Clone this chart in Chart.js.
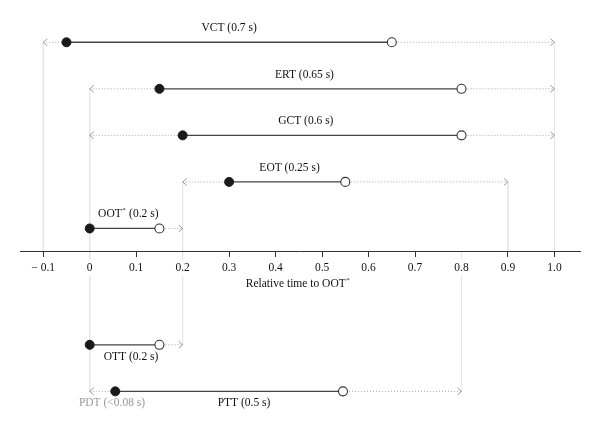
<!DOCTYPE html>
<html>
<head>
<meta charset="utf-8">
<script src="https://cdn.jsdelivr.net/npm/chart.js@4.4.1/dist/chart.umd.min.js"></script>
<style>
  html, body { margin: 0; padding: 0; background: #fff; }
  #wrap { width: 600px; height: 431px; position: relative; }
</style>
</head>
<body>
<div id="wrap"><canvas id="timing"></canvas></div>
<script>
// rows, top to bottom (rows above the axis, then the two below it)
var rowNames = ['VCT', 'ERT', 'GCT', 'EOT', 'OOT', 'OTT', 'PTT'];
var rowLevel = [7, 6, 5, 4, 3, 0.5, -0.5];
var onsetTime = [-0.05, 0.15, 0.2, 0.3, 0, 0, 0.055];
var offsetTime = [0.65, 0.8, 0.8, 0.55, 0.15, 0.15, 0.545];
var windowStart = [-0.1, 0, 0, 0.2, null, null, 0];
var windowEnd = [1.0, 1.0, 1.0, 0.9, 0.2, 0.2, 0.8];
var durationText = ['VCT (0.7 s)', 'ERT (0.65 s)', 'GCT (0.6 s)', 'EOT (0.25 s)', 'OOT* (0.2 s)', 'OTT (0.2 s)', 'PTT (0.5 s)'];
var labelAt = [0.30, 0.462, 0.465, 0.43, 0.083, 0.089, 0.332];
var labelBelow = [false, false, false, false, false, true, true];

// extra grey note under PTT
var noteText = 'PDT (<0.08 s)';
var noteAt = 0.048;

// light vertical guide lines
var guideX = [-0.1, 0, 0.2, 0.8, 0.9, 1.0];
var guideTop = [7, 6, 4, 2.5, 4, 7];
var guideBottom = [2.5, -0.5, 0.5, -0.5, 2.5, 2.5];

// axis
var tickValues = [-0.1, 0, 0.1, 0.2, 0.3, 0.4, 0.5, 0.6, 0.7, 0.8, 0.9, 1.0];
var tickLabels = ['\u2212 0.1', '0', '0.1', '0.2', '0.3', '0.4', '0.5', '0.6', '0.7', '0.8', '0.9', '1.0'];
var axisLevel = 2.5;
var axisTitle = 'Relative time to OOT*';

var FONT = '"Liberation Serif", "DejaVu Serif", serif';
var SIZE = 11.5;

var datasets = [];

// dots on top
datasets.push({
    type: 'scatter',
    order: 0,
    data: rowNames.map(function (n, i) { return { x: onsetTime[i], y: rowLevel[i] }; }),
    pointRadius: 4.5,
    pointBackgroundColor: '#1a1a1a',
    pointBorderColor: '#1a1a1a',
    pointBorderWidth: 1
});
datasets.push({
    type: 'scatter',
    order: 0,
    data: rowNames.map(function (n, i) { return { x: offsetTime[i], y: rowLevel[i] }; }),
    pointRadius: 4.5,
    pointBackgroundColor: '#fff',
    pointBorderColor: '#333',
    pointBorderWidth: 1.1
});

// solid onset-offset segments
rowNames.forEach(function (n, i) {
    datasets.push({
        type: 'line',
        order: 1,
        data: [{ x: onsetTime[i], y: rowLevel[i] }, { x: offsetTime[i], y: rowLevel[i] }],
        borderColor: '#444',
        borderWidth: 1.3,
        pointRadius: 0
    });
});

// dotted windows either side
rowNames.forEach(function (n, i) {
    if (windowStart[i] !== null) {
        datasets.push({
            type: 'line',
            order: 2,
            data: [{ x: windowStart[i], y: rowLevel[i] }, { x: onsetTime[i], y: rowLevel[i] }],
            borderColor: '#a8a8a8',
            borderWidth: 1,
            borderDash: [1, 2],
            pointRadius: 0
        });
    }
    if (windowEnd[i] !== null) {
        datasets.push({
            type: 'line',
            order: 2,
            data: [{ x: offsetTime[i], y: rowLevel[i] }, { x: windowEnd[i], y: rowLevel[i] }],
            borderColor: '#a8a8a8',
            borderWidth: 1,
            borderDash: [1, 2],
            pointRadius: 0
        });
    }
});

// guides
guideX.forEach(function (gx, i) {
    datasets.push({
        type: 'line',
        order: 3,
        data: [{ x: gx, y: guideTop[i] }, { x: gx, y: guideBottom[i] }],
        borderColor: '#e6e6e6',
        borderWidth: 1,
        pointRadius: 0
    });
});

// text with a raised asterisk
function drawRich(ctx, text, x, y, size, color) {
    var parts = text.split('*');
    ctx.save();
    ctx.fillStyle = color;
    ctx.textBaseline = 'middle';
    ctx.textAlign = 'left';
    var main = size + 'px ' + FONT;
    var star = Math.round(size * 0.65) + 'px ' + FONT;
    var total = 0;
    parts.forEach(function (p, k) {
        ctx.font = main;
        total += ctx.measureText(p).width;
        if (k < parts.length - 1) {
            ctx.font = star;
            total += ctx.measureText('*').width + 1;
        }
    });
    var cx = x - total / 2;
    parts.forEach(function (p, k) {
        ctx.font = main;
        ctx.fillText(p, cx, y);
        cx += ctx.measureText(p).width;
        if (k < parts.length - 1) {
            ctx.font = star;
            ctx.fillText('*', cx + 0.5, y - size * 0.35);
            cx += ctx.measureText('*').width + 1;
        }
    });
    ctx.restore();
}

function chevron(ctx, px, py, dir) {
    ctx.beginPath();
    ctx.moveTo(px - dir * 4, py - 3.5);
    ctx.lineTo(px, py);
    ctx.lineTo(px - dir * 4, py + 3.5);
    ctx.stroke();
}

var decorations = {
    id: 'decorations',
    afterDatasetsDraw: function (chart) {
        var ctx = chart.ctx;
        var xs = chart.scales.x;
        var ys = chart.scales.y;

        ctx.save();
        ctx.strokeStyle = '#9a9a9a';
        ctx.lineWidth = 1;
        rowNames.forEach(function (n, i) {
            var py = ys.getPixelForValue(rowLevel[i]);
            if (windowStart[i] !== null) chevron(ctx, xs.getPixelForValue(windowStart[i]), py, -1);
            if (windowEnd[i] !== null) chevron(ctx, xs.getPixelForValue(windowEnd[i]), py, 1);
        });
        ctx.restore();

        rowNames.forEach(function (n, i) {
            var py = ys.getPixelForValue(rowLevel[i]) + (labelBelow[i] ? 12 : -14);
            drawRich(ctx, durationText[i], xs.getPixelForValue(labelAt[i]), py, SIZE, '#111');
        });
        drawRich(ctx, noteText, xs.getPixelForValue(noteAt),
            ys.getPixelForValue(rowLevel[6]) + 12, SIZE, '#999');

        drawRich(ctx, axisTitle, (chart.chartArea.left + chart.chartArea.right) / 2 - 2,
            ys.getPixelForValue(axisLevel) + 32, SIZE, '#111');
    }
};

new Chart(document.getElementById('timing'), {
    data: { datasets: datasets },
    options: {
        responsive: true,
        maintainAspectRatio: false,
        animation: false,
        layout: { padding: { left: 20, right: 20, top: 19, bottom: 28 } },
        plugins: {
            legend: { display: false },
            tooltip: { enabled: false }
        },
        scales: {
            x: {
                type: 'linear',
                min: -0.15,
                max: 1.055,
                position: { y: axisLevel },
                afterBuildTicks: function (scale) {
                    scale.ticks = tickValues.map(function (v) { return { value: v }; });
                },
                grid: {
                    display: true,
                    drawOnChartArea: false,
                    drawTicks: true,
                    tickLength: 5,
                    color: '#333'
                },
                border: { display: true, color: '#333', width: 1, z: 1 },
                ticks: {
                    z: 1,
                    autoSkip: false,
                    maxRotation: 0,
                    padding: 4,
                    color: '#111',
                    showLabelBackdrop: true,
                    backdropColor: '#fff',
                    backdropPadding: 1,
                    font: { family: FONT, size: SIZE },
                    callback: function (value, index) { return tickLabels[index]; }
                }
            },
            y: {
                type: 'linear',
                display: false,
                min: -0.75,
                max: 7.5
            }
        }
    },
    plugins: [decorations]
});
</script>
</body>
</html>
